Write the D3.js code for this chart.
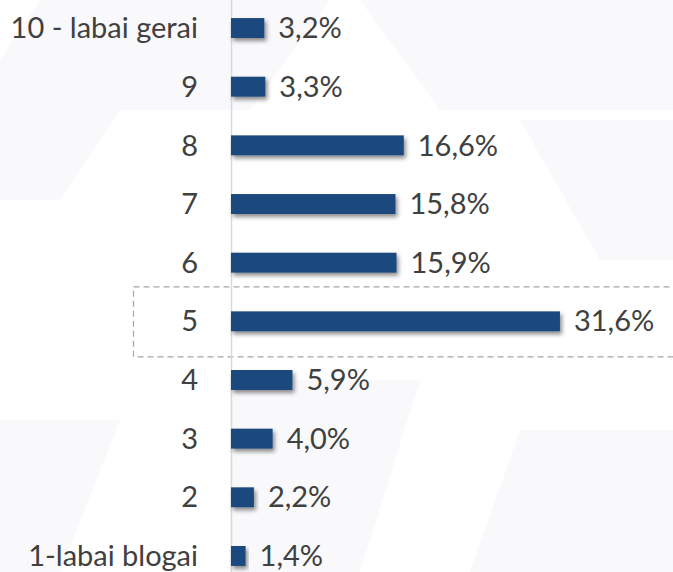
<!DOCTYPE html>
<meta charset="utf-8">
<style>
body { margin: 0; background: #fff; }
svg text { font-family: Lato, "Open Sans", sans-serif; }
</style>
<script src="https://d3js.org/d3.v7.min.js"></script>
<div id="chart"></div>
<script>
// data, top row first
var categories = ["10 - labai gerai", "9", "8", "7", "6", "5", "4", "3", "2", "1-labai blogai"];
var values = [3.2, 3.3, 16.6, 15.8, 15.9, 31.6, 5.9, 4.0, 2.2, 1.4];
var highlighted = "5";

var W = 673, H = 572;
var axisX = 231;

var svg = d3.select("#chart").append("svg")
    .attr("width", W)
    .attr("height", H);

// drop shadow for bars
var defs = svg.append("defs");
var f = defs.append("filter").attr("id", "shadow")
    .attr("x", "-20%").attr("y", "-40%").attr("width", "140%").attr("height", "200%");
f.append("feDropShadow")
    .attr("dx", 2).attr("dy", 3)
    .attr("stdDeviation", 2)
    .attr("flood-color", "#000")
    .attr("flood-opacity", 0.45);

// very faint background watermark shapes
var bg = svg.append("g").attr("fill", "#f9f9fb");
bg.append("path").attr("d", "M40,0 L330,0 L250,110 L120,110 L60,200 L0,200 L0,60 Z");
bg.append("path").attr("d", "M360,0 L673,0 L673,110 L440,110 Z");
bg.append("path").attr("d", "M520,120 L673,120 L673,260 L600,260 Z");
bg.append("path").attr("d", "M230,380 L420,380 L360,572 L230,572 Z");
bg.append("path").attr("d", "M0,420 L120,420 L60,572 L0,572 Z");
bg.append("path").attr("d", "M520,430 L673,430 L673,572 L470,572 Z");

var x = d3.scaleLinear()
    .domain([0, 35])
    .range([axisX, axisX + 35 * 10.41]);

var y = d3.scaleBand()
    .domain(categories)
    .range([-1.3, 585.3])
    .paddingInner(0.66)
    .paddingOuter(0.33);

// highlight box around row 5
var hy = y(highlighted) + y.bandwidth() / 2;
svg.append("rect")
    .attr("x", 133.5)
    .attr("y", hy - 34.5)
    .attr("width", 560)
    .attr("height", 70)
    .attr("fill", "none")
    .attr("stroke", "#a6a6a6")
    .attr("stroke-width", 1.2)
    .attr("stroke-dasharray", "6,4");

// vertical axis line
svg.append("line")
    .attr("x1", axisX + 0.5).attr("x2", axisX + 0.5)
    .attr("y1", 0).attr("y2", H)
    .attr("stroke", "#d9d9d9")
    .attr("stroke-width", 1.5);

var rows = categories.map(function(c, i) { return {cat: c, val: values[i]}; });

// bars
svg.selectAll("rect.bar")
    .data(rows)
    .enter().append("rect")
    .attr("class", "bar")
    .attr("x", x(0))
    .attr("y", function(d) { return y(d.cat); })
    .attr("width", function(d) { return x(d.val) - x(0); })
    .attr("height", y.bandwidth())
    .attr("fill", "#1f497d")
    .attr("filter", "url(#shadow)");

// category labels
svg.selectAll("text.cat")
    .data(rows)
    .enter().append("text")
    .attr("class", "cat")
    .attr("x", 198)
    .attr("y", function(d) { return y(d.cat) + y.bandwidth() / 2; })
    .attr("dy", "0.35em")
    .attr("text-anchor", "end")
    .attr("fill", "#404040")
    .style("font-size", "29px")
    .text(function(d) { return d.cat; });

// value labels
svg.selectAll("text.val")
    .data(rows)
    .enter().append("text")
    .attr("class", "val")
    .attr("x", function(d) { return x(d.val) + 14; })
    .attr("y", function(d) { return y(d.cat) + y.bandwidth() / 2; })
    .attr("dy", "0.35em")
    .attr("fill", "#404040")
    .style("font-size", "29px")
    .text(function(d) { return d.val.toFixed(1).replace(".", ",") + "%"; });
</script>
